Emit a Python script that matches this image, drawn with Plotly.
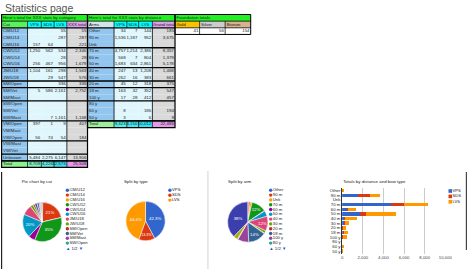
import plotly.graph_objects as go

W, H = 474, 269

# ------------------------------------------------------------------ data
PAGE_TITLE = "Statistics page"

T1_TITLE = "Here's total for XXX stats by category"
T1_HEAD = ["Cat", "VPS", "SDS", "LVS", "XXX total"]
T1_LABELS = ["CM/U12", "CM/U14", "CM/U16", "CW/U12", "CW/U14", "CW/U16", "JM/U18",
             "JW/U18", "SM/Open", "SM/Vet", "SM/Mast", "SW/Open", "SW/Vet", "SW/Mast",
             "VM/Open", "VM/Mast", "VW/Open", "VW/Mast", "VW/Vet", "Unknown"]
T1_VPS = [None, None, 157, 1250, None, 256, 1104, None, None, 5, None, None, None, None,
          397, None, 56, None, None, 5484]
T1_SDS = [None, None, 64, 562, None, 467, 161, 29, None, 586, None, None, None, 7,
          1, None, 74, None, None, 2275]
T1_LVS = [55, 287, None, 534, 28, 956, 298, 547, 336, 2161, None, None, None, 1161,
          9, None, 54, None, None, 6147]
T1_GROUPS = [3, 3, 2, 1, 2, 3, 3, 2, 1]

T2_TITLE = "Here's total for XXX stats by distance"
T2_HEAD = ["Arms", "VPS", "SDS", "LVS", "Grand total"]
T2_LABELS = ["Other", "90 m", "Unk", "70 m", "60 m", "50 m", "40 m", "30 m", "20 m",
             "18 m", "100 y", "80 y", "60 y", "50 y"]
T2_VPS = [34, 1536, None, 4757, 568, 1683, 247, 262, 45, 163, 17, None, 8, 3]
T2_SDS = [7, 1187, None, 1214, 7, 634, 13, 16, 12, 32, 28, None, None, None]
T2_LVS = [144, 952, None, 2386, 804, 2861, 1208, 383, 318, 352, 412, None, 186, 6]
T2_GROUPS = [3, 3, 2, 1, 2, 3]

T3_TITLE = "Foundation totals"
T3_HEAD = ["Gold", "Silver", "Bronze"]
T3_VALUES = [41, 56, 154]

PIE1_TITLE = "Pie chart by cat"
PIE1_LABELS = ["CM/U12", "CM/U14", "CM/U16", "CW/U12", "CW/U14", "CW/U16", "JM/U18",
               "JW/U18", "SM/Open", "SM/Vet", "SM/Mast", "SW/Open", "SW/Vet", "SW/Mast"]
PIE1_VALUES = [0.4, 21, 0, 35, 5.5, 19.5, 8.3, 2.4, 1.5, 2, 1.8, 1, 1, 0.6]

PIE2_TITLE = "Split by type"
PIE2_LABELS = ["VPS", "SDS", "LVS"]
PIE2_VALUES = [42.3, 13.3, 44.4]

PIE3_TITLE = "Split by arm"
PIE3_LABELS = T2_LABELS
PIE3_VALUES = [0.5, 1.5, 1.5, 12, 0.5, 4.5, 12, 2, 0.5, 14.5, 9, 0.5, 3.5, 38]

BAR_TITLE = "Totals by distance and bow type"
BAR_SERIES = ["VPS", "SDS", "LVS"]
BAR_TICKS = [0, 2000, 4000, 6000, 8000, 10000]

PALETTE = ["#3366cc", "#dc3912", "#ff9900", "#109618", "#990099", "#0099c6", "#dd4477",
           "#66aa00", "#b82e2e", "#316395", "#994499", "#22aa99", "#aaaa11", "#3b3eac",
           "#e67300"]

# ------------------------------------------------------------------ styles
GREEN = "#22f022"
CYAN = "#00ffff"
LBLUE = "#93c6ef"
LCYAN = "#dff6fd"
GRAY = "#d9d9d9"
LILAC = "#dda2ec"
FONT = "Liberation Sans, Arial, sans-serif"
TS = 4.4
Y0, RH = 14.5, 6.65

fig = go.Figure()
shapes = []
txt = {k: ([], [], []) for k in ("l", "r", "c")}


def fmt(v):
    return "" if v is None else f"{v:,}"


def rect(x0, y0, x1, y1, fill):
    shapes.append(dict(type="rect", xref="x", yref="y", x0=x0, x1=x1, y0=y0, y1=y1,
                       fillcolor=fill, line=dict(width=0), layer="below"))


def box(x0, y0, x1, y1, w=1, color="#000"):
    shapes.append(dict(type="rect", xref="x", yref="y", x0=x0, x1=x1, y0=y0, y1=y1,
                       line=dict(width=w, color=color)))


def line(x0, y0, x1, y1, w=1, color="#000"):
    shapes.append(dict(type="line", xref="x", yref="y", x0=x0, x1=x1, y0=y0, y1=y1,
                       line=dict(width=w, color=color)))


def put(x, y, s, align="l"):
    xs, ys, ss = txt[align]
    xs.append(x); ys.append(y); ss.append(s)


def sheet_table(xe, title, head, head_fill_a, labels, cols, groups, tot_fills):
    n = len(labels)
    ye = [Y0 + i * RH for i in range(n + 4)]
    mid = lambda i: (ye[i] + ye[i + 1]) / 2
    rect(xe[0], ye[0], xe[-1], ye[1], GREEN)
    put(xe[0] + 1.5, mid(0), title, "l")
    hf = [head_fill_a, CYAN, CYAN, CYAN, LILAC]
    for j in range(5):
        rect(xe[j], ye[1], xe[j + 1], ye[2], hf[j])
        if j == 0:
            put(xe[0] + 1.5, mid(1), head[0], "l")
        else:
            put((xe[j] + xe[j + 1]) / 2, mid(1), head[j], "c")
    bf = [LBLUE, LCYAN, LCYAN, LCYAN, GRAY]
    for i in range(n):
        r = i + 2
        for j in range(5):
            rect(xe[j], ye[r], xe[j + 1], ye[r + 1], bf[j])
        put(xe[0] + 1.5, mid(r), labels[i], "l")
        vals = [c[i] for c in cols]
        for j, v in enumerate(vals):
            put(xe[j + 2] - 1.2, mid(r), fmt(v), "r")
        s = None if all(v is None for v in vals) else sum(v or 0 for v in vals)
        put(xe[5] - 1.2, mid(r), fmt(s), "r")
    r = n + 2
    tots = [sum(v or 0 for v in c) for c in cols]
    for j in range(5):
        rect(xe[j], ye[r], xe[j + 1], ye[r + 1], tot_fills[j])
    put(xe[0] + 1.5, mid(r), "Total", "l")
    for j, v in enumerate(tots + [sum(tots)]):
        put(xe[j + 2] - 1.2, mid(r), fmt(v), "r")
    # borders
    line(xe[0], ye[1], xe[-1], ye[1], 0.8)
    for x in xe[1:-1]:
        line(x, ye[1], x, ye[2], 0.7)
        line(x, ye[r], x, ye[r + 1], 0.7)
    for x in (xe[1], xe[4]):
        line(x, ye[2], x, ye[r], 0.8)
    cum = 2
    line(xe[0], ye[2], xe[-1], ye[2], 1.3)
    for g in groups:
        cum += g
        line(xe[0], ye[cum], xe[-1], ye[cum], 1.3)
    line(xe[0], ye[r], xe[-1], ye[r], 1.3)
    box(xe[0], ye[0], xe[-1], ye[r + 1], 1.2)


sheet_table([0.6, 27, 41, 54, 67, 88], T1_TITLE, T1_HEAD, "#5cf05c", T1_LABELS,
            [T1_VPS, T1_SDS, T1_LVS], T1_GROUPS,
            ["#8ff08f", "#80f0c0", "#5fe8e0", "#3fe0f0", "#e49ae8"])
sheet_table([88, 115, 128, 140, 154, 177], T2_TITLE, T2_HEAD, "#d4e4ec", T2_LABELS,
            [T2_VPS, T2_SDS, T2_LVS], T2_GROUPS,
            ["#9cf09c", "#50f0e8", "#40eaf0", "#30e4f4", "#e49ae8"])

# table 3
xe3 = [177, 202, 228, 254]
ye3 = [Y0 + i * RH for i in range(4)]
rect(xe3[0], ye3[0], xe3[-1], ye3[1], GREEN)
put(xe3[0] + 1.5, (ye3[0] + ye3[1]) / 2, T3_TITLE, "l")
for j, (hd, f) in enumerate(zip(T3_HEAD, ["#ffc000", "#cccccc", "#d9b18c"])):
    rect(xe3[j], ye3[1], xe3[j + 1], ye3[2], f)
    put(xe3[j] + 1.5, (ye3[1] + ye3[2]) / 2, hd, "l")
    rect(xe3[j], ye3[2], xe3[j + 1], ye3[3], "#ffffff")
    put(xe3[j + 1] - 1.2, (ye3[2] + ye3[3]) / 2, fmt(T3_VALUES[j]), "r")
line(xe3[0], ye3[1], xe3[-1], ye3[1], 0.8)
line(xe3[0], ye3[2], xe3[-1], ye3[2], 0.8)
for x in xe3[1:-1]:
    line(x, ye3[1], x, ye3[3], 0.7)
box(xe3[0], ye3[0], xe3[-1], ye3[3], 1.0)

# page title
fig.add_annotation(x=2, y=7.5, xref="x", yref="y", text=PAGE_TITLE, showarrow=False,
                   xanchor="left", yanchor="middle",
                   font=dict(family=FONT, size=10.5, color="#555"))

# dividers of the chart area
line(0.6, 172, 0.6, 269, 1.2, "#222")
line(210.5, 171, 210.5, 269, 0.8, "#c8c8c8")
line(473.4, 172, 473.4, 250, 1.2, "#444")


# ------------------------------------------------------------------ pies
def pie_domain(cx, cy, r):
    return dict(x=[(cx - r) / W, (cx + r) / W], y=[1 - (cy + r) / H, 1 - (cy - r) / H])


def pie_text(values, lim=0.095, dec=0):
    t = sum(values)
    return [(f"{v / t * 100:.{dec}f}%" if v / t >= lim else "") for v in values]


def add_pie(labels, values, cx, cy, r, dec=0):
    fig.add_trace(go.Pie(labels=labels, values=values, sort=False, direction="clockwise",
                         rotation=0, domain=pie_domain(cx, cy, r),
                         marker=dict(colors=PALETTE[:len(values)], line=dict(color="white", width=0.5)),
                         text=pie_text(values, dec=dec), textinfo="text", textposition="inside",
                         insidetextorientation="horizontal",
                         textfont=dict(family=FONT, size=4.3, color="white"),
                         showlegend=False, hoverinfo="label+percent"))


def add_legend(x, y0, step, labels, colors, symbol="circle", size=3.4, pager=False):
    ys = [y0 + i * step for i in range(len(labels))]
    fig.add_trace(go.Scatter(x=[x] * len(labels), y=ys, mode="markers", xaxis="x", yaxis="y",
                             marker=dict(color=colors, size=size, symbol=symbol, line=dict(width=0)),
                             showlegend=False, hoverinfo="skip"))
    fig.add_trace(go.Scatter(x=[x + 2.2] * len(labels), y=ys, mode="text", text=labels,
                             textposition="middle right", xaxis="x", yaxis="y",
                             textfont=dict(family=FONT, size=4.2, color="#222"),
                             showlegend=False, hoverinfo="skip"))
    if pager:
        put(x - 1.5, y0 + len(labels) * step + 1.5,
            "<span style='color:#1c4fd8'>▲</span> 1/2 <span style='color:#1c4fd8'>▼</span>", "l")


add_pie(PIE1_LABELS, PIE1_VALUES, 42, 222, 20)
put(21, 182, PIE1_TITLE, "l")
add_legend(67.5, 190.3, 4.8, PIE1_LABELS[:12], PALETTE[:12], pager=True)

add_pie(PIE2_LABELS, PIE2_VALUES, 147, 221, 20, dec=1)
put(125, 182, PIE2_TITLE, "l")
add_legend(171.8, 190.3, 4.9, PIE2_LABELS, PALETTE[:3])

add_pie(PIE3_LABELS, PIE3_VALUES, 251, 222, 20.5)
put(231, 182, PIE3_TITLE, "l")
add_legend(274.3, 190.3, 4.8, PIE3_LABELS[:12], PALETTE[:12], pager=True)

# ------------------------------------------------------------------ bar chart
for name, vals, col in zip(BAR_SERIES, [T2_VPS, T2_SDS, T2_LVS], PALETTE[:3]):
    fig.add_trace(go.Bar(y=T2_LABELS, x=[v or 0 for v in vals], orientation="h", name=name,
                         marker=dict(color=col, line=dict(width=0)), xaxis="x2", yaxis="y2",
                         showlegend=False))
put(348, 182, BAR_TITLE, "l")
add_legend(457, 191, 5.4, BAR_SERIES, PALETTE[:3], symbol="square", size=3.6)

# text traces
for align, pos in (("l", "middle right"), ("r", "middle left"), ("c", "middle center")):
    xs, ys, ss = txt[align]
    fig.add_trace(go.Scatter(x=xs, y=ys, text=ss, mode="text", textposition=pos,
                             xaxis="x", yaxis="y",
                             textfont=dict(family=FONT, size=TS, color="#222"),
                             showlegend=False, hoverinfo="skip"))

fig.update_layout(
    width=W, height=H, margin=dict(l=0, r=0, t=0, b=0),
    paper_bgcolor="white", plot_bgcolor="rgba(0,0,0,0)",
    shapes=shapes, showlegend=False, barmode="stack", bargap=0.25,
    xaxis=dict(domain=[0, 1], range=[0, W], visible=False, fixedrange=True),
    yaxis=dict(domain=[0, 1], range=[H, 0], visible=False, fixedrange=True),
    xaxis2=dict(domain=[347 / W, 452 / W], anchor="y2", range=[0, 10000],
                tickvals=BAR_TICKS, ticktext=[f"{v:,}" for v in BAR_TICKS],
                showgrid=True, gridcolor="#cccccc", gridwidth=0.6, zeroline=False,
                tickfont=dict(family=FONT, size=4.3, color="#444"), ticks="", fixedrange=True),
    yaxis2=dict(domain=[1 - 253.5 / H, 1 - 188.3 / H], anchor="x2", autorange="reversed",
                type="category", tickmode="array", tickvals=T2_LABELS, ticktext=T2_LABELS,
                showgrid=False, showline=True, linecolor="#333", linewidth=0.8,
                tickfont=dict(family=FONT, size=4.3, color="#222"), ticks="", fixedrange=True),
    font=dict(family=FONT),
)

fig.write_html("out.html", config={"displayModeBar": False})
